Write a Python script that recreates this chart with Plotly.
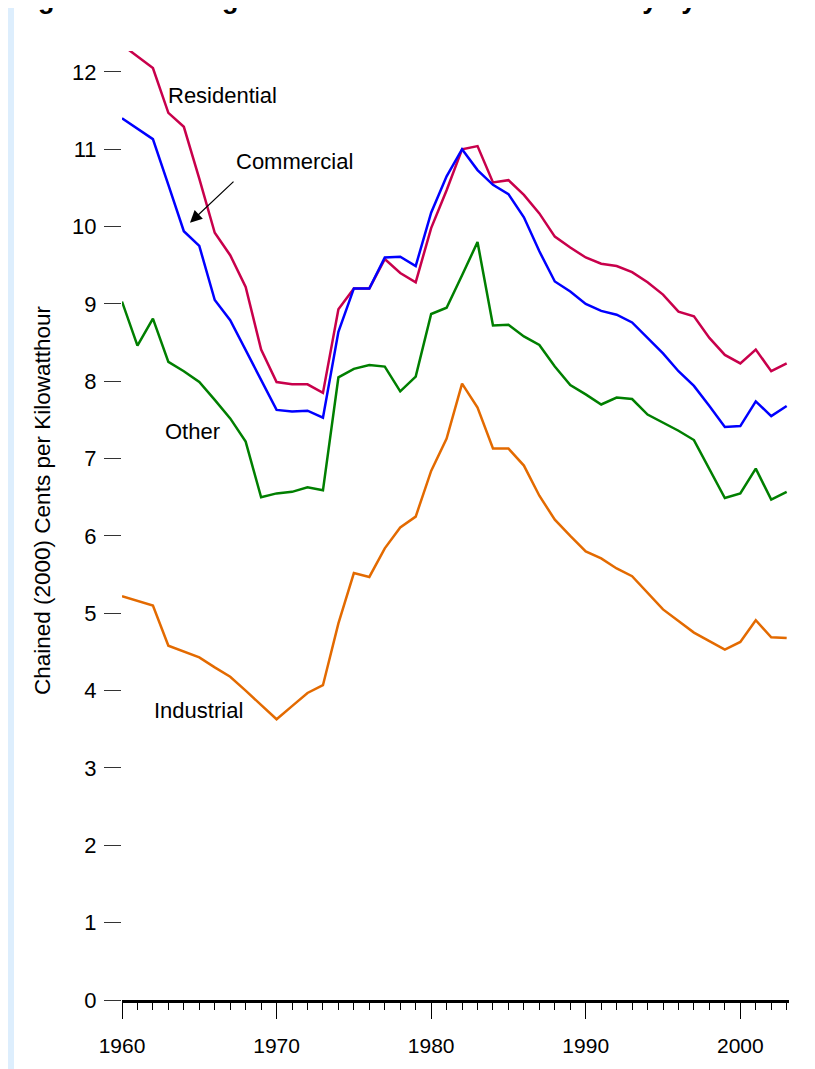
import plotly.graph_objects as go

years = [1960, 1961, 1962, 1963, 1964, 1965, 1966, 1967, 1968, 1969,
         1970, 1971, 1972, 1973, 1974, 1975, 1976, 1977, 1978, 1979,
         1980, 1981, 1982, 1983, 1984, 1985, 1986, 1987, 1988, 1989,
         1990, 1991, 1992, 1993, 1994, 1995, 1996, 1997, 1998, 1999,
         2000, 2001, 2002, 2003]

residential = [12.35, 12.20, 12.05, 11.47, 11.29, 10.62, 9.92, 9.63, 9.22, 8.41,
               7.99, 7.96, 7.96, 7.85, 8.93, 9.20, 9.20, 9.58, 9.40, 9.28,
               9.98, 10.47, 11.00, 11.04, 10.57, 10.60, 10.41, 10.17, 9.87, 9.73,
               9.60, 9.52, 9.49, 9.41, 9.28, 9.12, 8.90, 8.84, 8.56, 8.34,
               8.23, 8.41, 8.13, 8.23]

commercial = [11.40, 11.27, 11.13, 10.54, 9.94, 9.75, 9.05, 8.79, 8.41, 8.03,
              7.63, 7.61, 7.62, 7.53, 8.64, 9.20, 9.20, 9.60, 9.61, 9.49,
              10.18, 10.65, 11.00, 10.73, 10.54, 10.42, 10.12, 9.68, 9.29, 9.16,
              9.00, 8.91, 8.86, 8.76, 8.56, 8.36, 8.13, 7.94, 7.68, 7.41,
              7.42, 7.74, 7.55, 7.68]

other = [9.03, 8.46, 8.81, 8.25, 8.13, 7.99, 7.76, 7.52, 7.22, 6.50,
         6.55, 6.57, 6.63, 6.59, 8.05, 8.16, 8.21, 8.19, 7.87, 8.06,
         8.87, 8.95, 9.37, 9.80, 8.72, 8.73, 8.58, 8.47, 8.19, 7.95,
         7.83, 7.70, 7.79, 7.77, 7.57, 7.47, 7.36, 7.24, 6.86, 6.49,
         6.55, 6.87, 6.47, 6.57]

industrial = [5.22, 5.16, 5.10, 4.58, 4.51, 4.43, 4.30, 4.18, 4.00, 3.81,
              3.63, 3.80, 3.97, 4.07, 4.87, 5.52, 5.47, 5.84, 6.11, 6.25,
              6.84, 7.26, 7.97, 7.66, 7.13, 7.13, 6.91, 6.52, 6.21, 6.00,
              5.80, 5.71, 5.58, 5.48, 5.26, 5.05, 4.90, 4.75, 4.64, 4.53,
              4.63, 4.91, 4.69, 4.68]

series = [
    ("Residential", residential, "#C8004B"),
    ("Commercial", commercial, "#0000FF"),
    ("Other", other, "#007F00"),
    ("Industrial", industrial, "#E36A00"),
]

FONT = "Arial, Liberation Sans, sans-serif"
OFF = 8  # page body margin around the plot div
W, H = 815 - OFF, 1069 - OFF
L, R, T, B = 114, 26, 43, 69
PW, PH = W - L - R, H - T - B

fig = go.Figure()
for name, vals, color in series:
    fig.add_trace(go.Scatter(x=years, y=vals, mode="lines", name=name,
                             line=dict(color=color, width=2.5), showlegend=False))

# series labels (data coordinates)
labels = [("Residential", 1966.47, 11.70), ("Commercial", 1971.13, 10.84),
          ("Other", 1964.56, 7.35), ("Industrial", 1964.92, 3.74)]
for txt, lx, ly in labels:
    fig.add_annotation(x=lx, y=ly, text=txt, showarrow=False,
                       font=dict(size=22, color="black", family=FONT))

# arrow for Commercial
fig.add_annotation(x=1964.40, y=10.05, ax=1967.31, ay=10.60, axref="x", ayref="y",
                   text="", showarrow=True, arrowhead=2, arrowsize=2,
                   arrowwidth=1.2, arrowcolor="black")


# page pixel -> paper fraction
def px_x(p):
    return (p - OFF - L) / PW


def px_y(p):
    return (H - B - (p - OFF)) / PH


# y axis title
fig.add_annotation(xref="paper", yref="paper", x=px_x(42), y=px_y(501),
                   text="Chained (2000) Cents per Kilowatthour", textangle=-90,
                   showarrow=False, xanchor="center", yanchor="middle",
                   font=dict(size=22.5, color="black", family=FONT))

# page title, cut off at the top
fig.add_annotation(xref="paper", yref="paper", x=px_x(12), y=px_y(16),
                   text="<b>Figure 8.6 Average Real Retail Prices of Electricity by Sector</b>",
                   showarrow=False, xanchor="left", yanchor="bottom",
                   font=dict(size=27, color="black", family=FONT))

# light blue strip on the left edge
fig.add_annotation(xref="paper", yref="paper", x=px_x(0), y=px_y(0),
                   xanchor="left", yanchor="top", text=" ", showarrow=False,
                   width=14, height=1069, borderpad=0, borderwidth=0,
                   bgcolor="#DDEEFD")
fig.add_shape(type="rect", xref="paper", yref="paper",
              x0=px_x(0), x1=px_x(14), y0=px_y(1069), y1=px_y(0),
              fillcolor="#DDEEFD", line=dict(width=0), layer="below")

fig.update_layout(
    width=W, height=H,
    margin=dict(l=L, r=R, t=T, b=B),
    paper_bgcolor="white", plot_bgcolor="white",
    font=dict(family=FONT, color="black"),
    xaxis=dict(range=[1960, 2003.15], showgrid=False, zeroline=False,
               showline=True, linecolor="black", linewidth=2.5,
               ticks="outside", tickvals=[1960, 1970, 1980, 1990, 2000],
               ticklen=16, tickwidth=1, tickcolor="black",
               ticklabelstandoff=9,
               tickfont=dict(size=21, family=FONT),
               minor=dict(dtick=1, tick0=1960, ticks="outside", ticklen=7,
                          tickwidth=1, tickcolor="black")),
    yaxis=dict(range=[0, 12.27], showgrid=False, zeroline=False, showline=False,
               ticks="outside", dtick=1, ticklen=17, tickwidth=1,
               tickcolor="#333", ticklabelstandoff=3,
               tickfont=dict(size=22, family=FONT)),
)

fig.write_html("out.html")
